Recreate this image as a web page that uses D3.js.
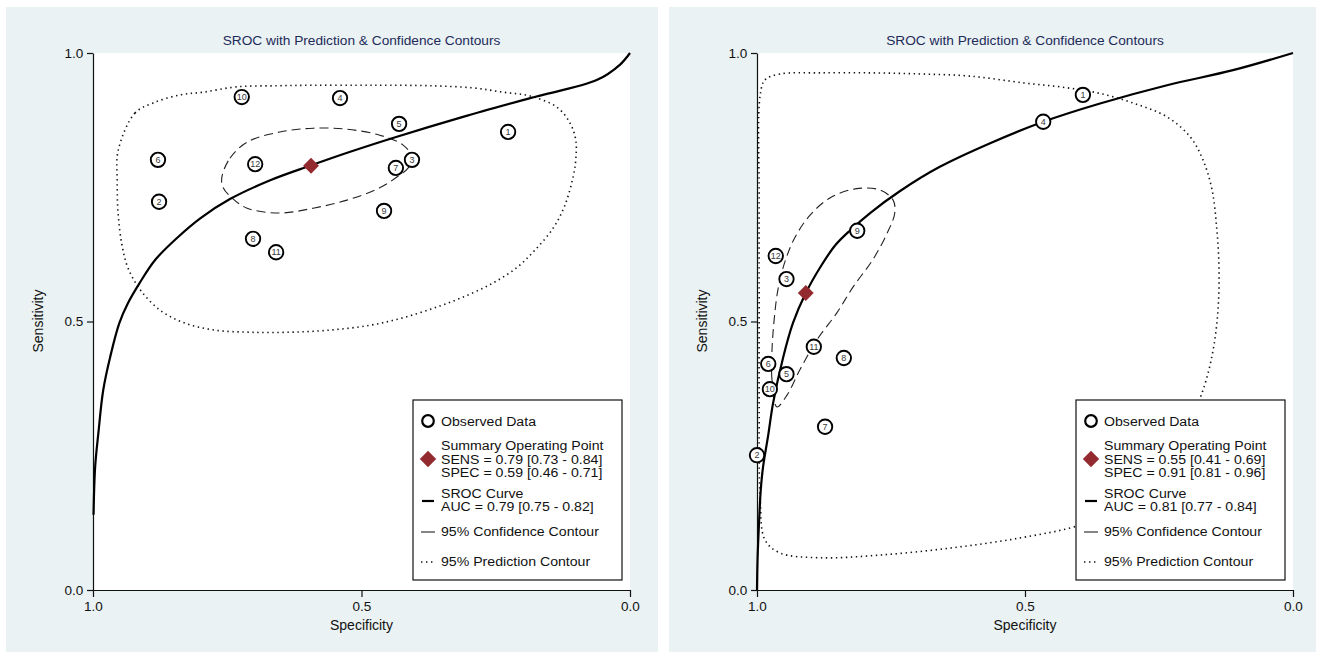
<!DOCTYPE html>
<html><head><meta charset="utf-8">
<script src="https://cdn.jsdelivr.net/npm/d3@7/dist/d3.min.js"></script>
<style>
body{margin:0;background:#fff;}
svg{display:block;font-family:"Liberation Sans",Arial,sans-serif;}
</style></head>
<body><svg id="c" width="1322" height="656"></svg>
<script>
// ---------- DATA ----------
const axisTicks = [0, 0.5, 1];
const tickLabels = ["0.0", "0.5", "1.0"];
const titleText = "SROC with Prediction & Confidence Contours";

// Left panel: studies [id, specificity, sensitivity]
const leftStudies = [
  [1,0.227,0.853],[2,0.877,0.723],[3,0.406,0.801],[4,0.540,0.916],[5,0.430,0.868],[6,0.879,0.801],
  [7,0.436,0.786],[8,0.702,0.654],[9,0.458,0.706],[10,0.723,0.918],[11,0.659,0.629],[12,0.698,0.793]
];
const leftSummary = [0.594, 0.790];
const leftSroc = [
  [0.999,0.140],[0.996,0.229],[0.990,0.292],[0.981,0.372],[0.968,0.434],[0.951,0.497],[0.935,0.534],
  [0.913,0.572],[0.884,0.615],[0.842,0.657],[0.799,0.693],[0.745,0.728],[0.670,0.763],[0.596,0.790],
  [0.521,0.816],[0.434,0.844],[0.311,0.881],[0.186,0.916],[0.061,0.950],[0.019,0.978],[0.0,1.0]
];
const leftConf = [
  [0.760,0.769],[0.745,0.804],[0.713,0.834],[0.652,0.853],[0.590,0.860],[0.527,0.858],[0.466,0.847],
  [0.423,0.829],[0.406,0.806],[0.413,0.786],[0.434,0.769],[0.466,0.749],[0.527,0.726],[0.590,0.711],
  [0.652,0.702],[0.713,0.711],[0.741,0.730],[0.758,0.750]
];
const leftPred = [
  [0.953,0.819],[0.922,0.888],[0.888,0.907],[0.838,0.922],[0.795,0.927],[0.732,0.937],[0.657,0.939],
  [0.590,0.940],[0.508,0.940],[0.447,0.940],[0.372,0.939],[0.292,0.935],[0.236,0.927],[0.186,0.920],
  [0.136,0.899],[0.112,0.870],[0.101,0.838],[0.101,0.801],[0.106,0.769],[0.121,0.717],[0.143,0.674],
  [0.177,0.633],[0.210,0.601],[0.251,0.574],[0.298,0.551],[0.354,0.529],[0.419,0.508],[0.484,0.493],
  [0.559,0.484],[0.633,0.480],[0.708,0.480],[0.773,0.484],[0.829,0.497],[0.875,0.521],[0.912,0.559],
  [0.935,0.600],[0.946,0.642],[0.953,0.698],[0.955,0.760]
];
const leftLegend = ["Observed Data", "Summary Operating Point", "SENS = 0.79 [0.73 - 0.84]", "SPEC = 0.59 [0.46 - 0.71]",
  "SROC Curve", "AUC = 0.79 [0.75 - 0.82]", "95% Confidence Contour", "95% Prediction Contour"];

// Right panel
const rightStudies = [
  [1,0.392,0.922],[2,1.000,0.251],[3,0.945,0.579],[4,0.466,0.872],[5,0.945,0.402],[6,0.979,0.421],
  [7,0.873,0.304],[8,0.838,0.432],[9,0.813,0.669],[10,0.976,0.374],[11,0.894,0.453],[12,0.965,0.622]
];
const rightSummary = [0.909, 0.553];
const rightSroc = [
  [1.0,0.0],[0.999,0.056],[0.996,0.130],[0.993,0.186],[0.989,0.227],[0.979,0.289],[0.970,0.348],
  [0.951,0.434],[0.933,0.497],[0.909,0.553],[0.882,0.601],[0.854,0.642],[0.826,0.670],[0.789,0.702],
  [0.733,0.743],[0.659,0.788],[0.565,0.832],[0.466,0.872],[0.360,0.906],[0.235,0.940],[0.112,0.968],[0.0,1.0]
];
const rightConf = [
  [0.963,0.341],[0.972,0.391],[0.972,0.447],[0.968,0.503],[0.961,0.559],[0.948,0.611],[0.929,0.657],
  [0.901,0.698],[0.864,0.730],[0.817,0.747],[0.771,0.745],[0.746,0.726],[0.743,0.702],[0.756,0.667],
  [0.784,0.615],[0.821,0.564],[0.851,0.516],[0.888,0.466],[0.920,0.410],[0.944,0.363]
];
const rightPred = [
  [0.994,0.922],[0.985,0.950],[0.957,0.961],[0.882,0.963],[0.789,0.963],[0.696,0.961],[0.603,0.957],
  [0.500,0.944],[0.435,0.937],[0.366,0.926],[0.299,0.907],[0.235,0.881],[0.192,0.844],[0.168,0.801],
  [0.151,0.745],[0.142,0.670],[0.138,0.596],[0.140,0.521],[0.149,0.447],[0.168,0.372],[0.201,0.298],
  [0.248,0.223],[0.313,0.158],[0.397,0.121],[0.509,0.097],[0.640,0.078],[0.771,0.065],[0.882,0.060],
  [0.957,0.069],[0.985,0.093],[0.994,0.168],[0.996,0.354],[0.996,0.540],[0.996,0.726]
];
const rightLegend = ["Observed Data", "Summary Operating Point", "SENS = 0.55 [0.41 - 0.69]", "SPEC = 0.91 [0.81 - 0.96]",
  "SROC Curve", "AUC = 0.81 [0.77 - 0.84]", "95% Confidence Contour", "95% Prediction Contour"];

// ---------- DRAW ----------
const svg = d3.select("#c");
const BG = "#eaf2f3";
const TITLE_COL = "#1e2a5a";

function panel(o){
  const g = svg.append("g");
  g.append("rect").attr("x", o.bx).attr("y", 7).attr("width", o.bw).attr("height", 645).attr("fill", BG);
  const x = d3.scaleLinear().domain([1, 0]).range([o.px0, o.px1]);
  const y = d3.scaleLinear().domain([0, 1]).range([590, 53]);
  g.append("rect").attr("x", o.px0).attr("y", 53).attr("width", o.px1 - o.px0).attr("height", 537).attr("fill", "#fff");

  const fmt = d => tickLabels[axisTicks.indexOf(d)];
  const ya = g.append("g").attr("transform", `translate(${o.px0},0)`)
    .call(d3.axisLeft(y).tickValues(axisTicks).tickFormat(fmt).tickSize(6).tickSizeOuter(0));
  const xa = g.append("g").attr("transform", `translate(0,590)`)
    .call(d3.axisBottom(x).tickValues(axisTicks).tickFormat(fmt).tickSize(7).tickSizeOuter(0));
  [ya, xa].forEach(a => {
    a.select(".domain").attr("stroke", "#111").attr("stroke-width", 1.2);
    a.selectAll(".tick line").attr("stroke", "#111").attr("stroke-width", 1.2);
    a.selectAll("text").attr("font-size", 13.5).attr("fill", "#111").attr("font-family", "Liberation Sans, Arial");
  });
  ya.selectAll("text").attr("dx", "-0.05em");
  xa.selectAll("text").attr("dy", "0.8em");

  const cx = (o.px0 + o.px1) / 2;
  g.append("text").attr("x", cx).attr("y", 45).attr("text-anchor", "middle").attr("font-size", 13.7)
    .attr("fill", TITLE_COL).text(titleText);
  g.append("text").attr("x", cx).attr("y", 630).attr("text-anchor", "middle").attr("font-size", 14)
    .attr("fill", "#111").text("Specificity");
  g.append("text").attr("transform", `translate(${o.px0 - 50},321) rotate(-90)`).attr("text-anchor", "middle")
    .attr("font-size", 14).attr("fill", "#111").text("Sensitivity");

  const line = d3.line().x(d => x(d[0])).y(d => y(d[1]));
  const closed = d3.line().x(d => x(d[0])).y(d => y(d[1])).curve(d3.curveCatmullRomClosed.alpha(0.5));

  // prediction contour
  g.append("path").attr("d", closed(o.pred)).attr("fill", "none").attr("stroke", "#111")
    .attr("stroke-width", 1.6).attr("stroke-dasharray", "1.4,3.6");
  // confidence contour
  g.append("path").attr("d", closed(o.conf)).attr("fill", "none").attr("stroke", "#222")
    .attr("stroke-width", 1.1).attr("stroke-dasharray", "9,5");
  // SROC curve
  g.append("path").attr("d", line.curve(d3.curveCatmullRom.alpha(0.5))(o.sroc)).attr("fill", "none")
    .attr("stroke", "#000").attr("stroke-width", 2.2);

  // studies
  const st = g.selectAll(".st").data(o.studies).enter().append("g")
    .attr("transform", d => `translate(${x(d[1])},${y(d[2])})`);
  st.append("circle").attr("r", 7.2).attr("fill", "#fff").attr("stroke", "#000").attr("stroke-width", 1.9);
  st.append("text").attr("text-anchor", "middle").attr("dy", "0.35em").attr("font-size", 9)
    .attr("fill", "#3a3a3a").text(d => d[0]);

  // summary diamond
  const diamond = d3.symbol().type(d3.symbolDiamond2).size(160);
  g.append("path").attr("d", diamond()).attr("transform", `translate(${x(o.summary[0])},${y(o.summary[1])})`)
    .attr("fill", "#932a30");

  // legend
  const lx = o.px1 - 217, lw = 209;
  const lg = g.append("g");
  lg.append("rect").attr("x", lx).attr("y", 400).attr("width", lw).attr("height", 180)
    .attr("fill", "#fff").attr("stroke", "#111").attr("stroke-width", 1.2);
  const sx = lx + 15, tx = lx + 28;
  lg.append("circle").attr("cx", sx).attr("cy", 421).attr("r", 5.8).attr("fill", "#fff").attr("stroke", "#000").attr("stroke-width", 2.2);
  lg.append("path").attr("d", d3.symbol().type(d3.symbolDiamond2).size(170)()).attr("transform", `translate(${sx},${459})`).attr("fill", "#932a30");
  lg.append("line").attr("x1", sx - 6).attr("x2", sx + 6).attr("y1", 501).attr("y2", 501).attr("stroke", "#000").attr("stroke-width", 2.2);
  lg.append("line").attr("x1", sx - 7).attr("x2", sx + 7).attr("y1", 532).attr("y2", 532).attr("stroke", "#222").attr("stroke-width", 1.1);
  lg.append("line").attr("x1", sx - 7).attr("x2", sx + 8).attr("y1", 562).attr("y2", 562).attr("stroke", "#111")
    .attr("stroke-width", 1.6).attr("stroke-dasharray", "1.4,3.6");
  const ys = [421, 445.5, 459, 472.5, 493, 506.5, 531.5, 561];
  const lt = lg.selectAll(".lt").data(o.legend).enter().append("text").attr("x", tx).attr("y", (d, i) => ys[i])
    .attr("dy", "0.36em").attr("font-size", 12.5).attr("fill", "#111").text(d => d);
  lt.each(function(){
    const w = this.getComputedTextLength();
    d3.select(this).attr("textLength", w * 1.13).attr("lengthAdjust", "spacingAndGlyphs");
  });
}

panel({bx: 6, bw: 652, px0: 93, px1: 630, studies: leftStudies, summary: leftSummary, sroc: leftSroc,
  conf: leftConf, pred: leftPred, legend: leftLegend});
panel({bx: 669, bw: 647, px0: 757, px1: 1293, studies: rightStudies, summary: rightSummary, sroc: rightSroc,
  conf: rightConf, pred: rightPred, legend: rightLegend});
</script></body></html>
